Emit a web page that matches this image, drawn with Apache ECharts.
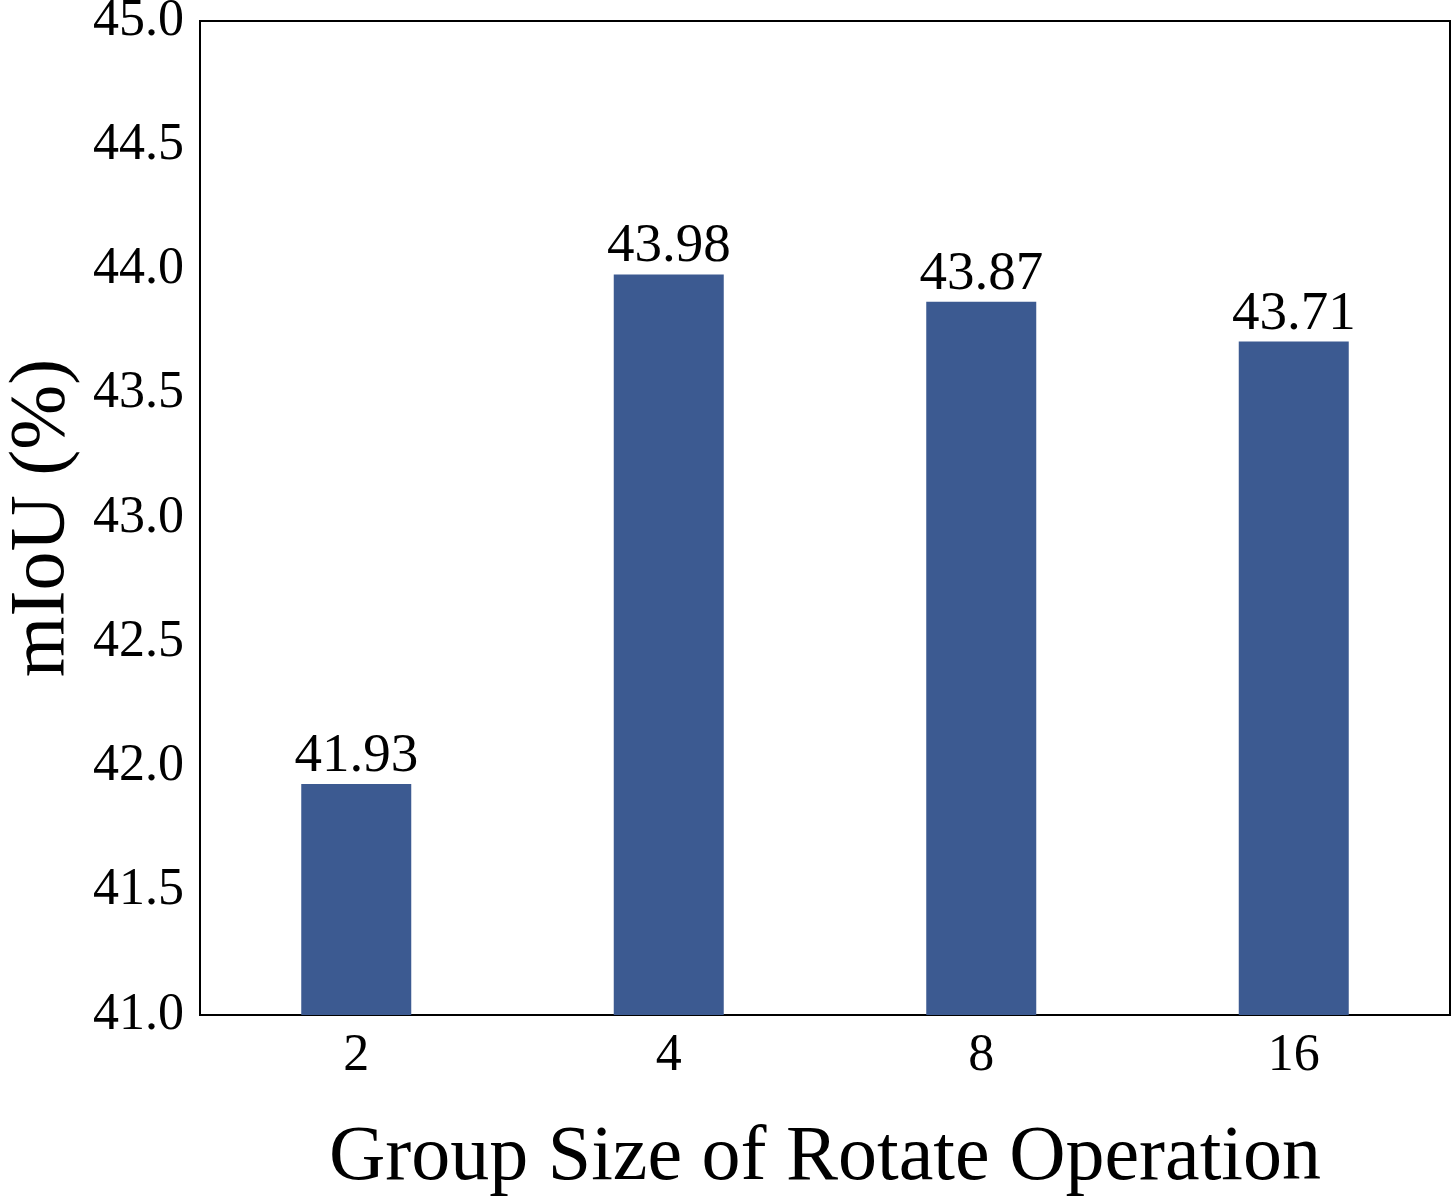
<!DOCTYPE html>
<html><head><meta charset="utf-8">
<script src="https://cdn.jsdelivr.net/npm/echarts@6/dist/echarts.min.js"></script>
<style>html,body{margin:0;padding:0;background:#fff}#c{width:1454px;height:1199px}</style>
</head><body><div id="c"></div>
<script>
const categories = ['2', '4', '8', '16'];
const values = [41.93, 43.98, 43.87, 43.71];
const chart = echarts.init(document.getElementById('c'));
const font = '"Liberation Serif", "Times New Roman", serif';
chart.setOption({
  animation: false,
  grid: {left: 200, right: 4, top: 21, bottom: 184, containLabel: false, outerBoundsMode: 'none', show: true, borderColor: '#000', borderWidth: 2, backgroundColor: 'transparent'},
  xAxis: {
    type: 'category', data: categories,
    name: 'Group Size of Rotate Operation', nameLocation: 'middle', nameGap: 105,
    nameTextStyle: {fontFamily: font, fontSize: 78, color: '#000'},
    axisLine: {show: true, lineStyle: {color: '#000', width: 2}},
    axisTick: {show: false},
    axisLabel: {fontFamily: font, fontSize: 52, color: '#000', margin: 15}
  },
  yAxis: {
    type: 'value', min: 41, max: 45, interval: 0.5,
    name: 'mIoU (%)', nameLocation: 'middle', nameGap: 118,
    nameTextStyle: {fontFamily: font, fontSize: 78, color: '#000'},
    axisLine: {show: true, lineStyle: {color: '#000', width: 2}},
    axisTick: {show: false},
    splitLine: {show: false},
    axisLabel: {fontFamily: font, fontSize: 52, color: '#000', margin: 16, formatter: v => v.toFixed(1)}
  },
  series: [{
    type: 'bar', data: values, barWidth: 110,
    itemStyle: {color: '#3c5a91'},
    label: {show: true, position: 'top', distance: 0, fontFamily: font, fontSize: 55, color: '#000', formatter: p => p.value.toFixed(2)}
  }]
});
</script></body></html>
